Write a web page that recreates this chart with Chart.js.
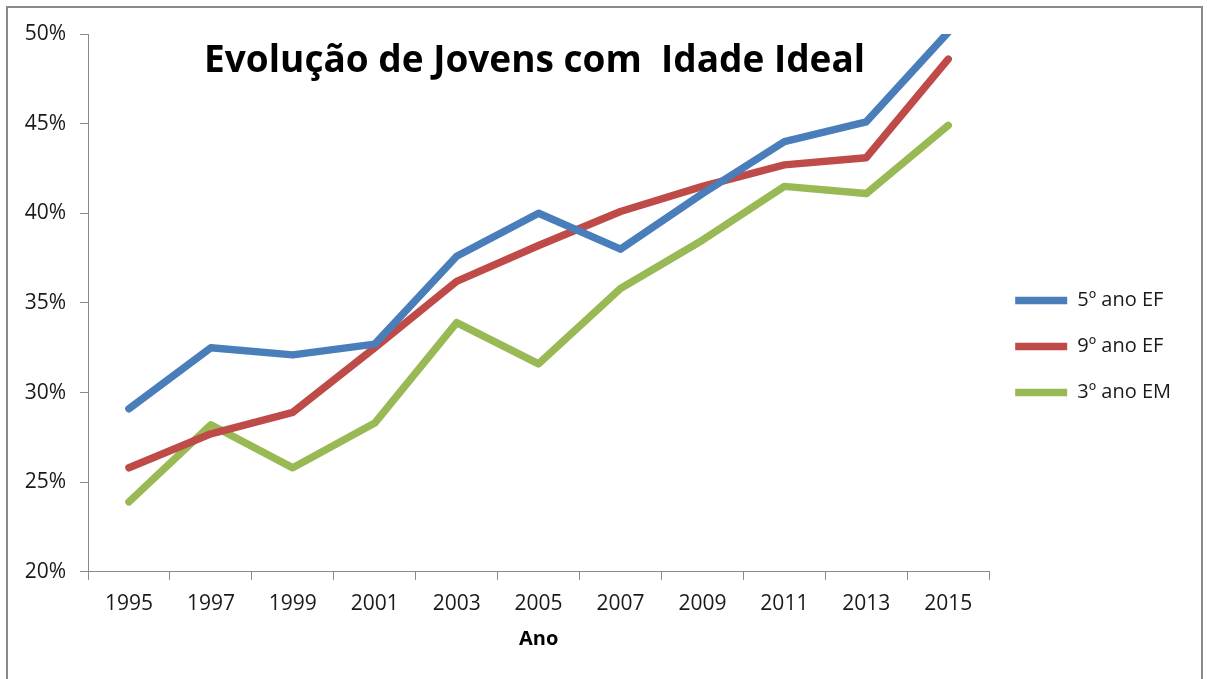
<!DOCTYPE html>
<html>
<head>
<meta charset="utf-8">
<script src="https://cdn.jsdelivr.net/npm/chart.js@4.4.1/dist/chart.umd.min.js"></script>
<style>
  html, body { margin: 0; padding: 0; background: #ffffff; }
  #wrap { position: relative; width: 1209px; height: 679px; overflow: hidden; }
  #frame { position: absolute; left: 6px; top: 6px; width: 1197px; height: 720px;
           border: 2px solid #8a8a8a; border-bottom: none; box-sizing: border-box; }
  #c { position: absolute; left: 0; top: 0; }
</style>
</head>
<body>
<div id="wrap">
  <div id="frame"></div>
  <canvas id="c" width="1209" height="679"></canvas>
</div>
<script>
const chartTitle = 'Evolução de Jovens com  Idade Ideal';
const xAxisTitle = 'Ano';
const years = ['1995', '1997', '1999', '2001', '2003', '2005', '2007', '2009', '2011', '2013', '2015'];
const seriesNames = ['5º ano EF', '9º ano EF', '3º ano EM'];
const ano5EF = [29.1, 32.5, 32.1, 32.7, 37.6, 40.0, 38.0, 41.1, 44.0, 45.1, 50.1];
const ano9EF = [25.8, 27.7, 28.9, 32.5, 36.2, 38.2, 40.1, 41.5, 42.7, 43.1, 48.6];
const ano3EM = [23.9, 28.2, 25.8, 28.3, 33.9, 31.6, 35.8, 38.5, 41.5, 41.1, 44.9];
const yTicks = [20, 25, 30, 35, 40, 45, 50];

const colors = ['#4A7EBB', '#BE4B48', '#98B954'];
const seriesData = [ano5EF, ano9EF, ano3EM];

const FONT = '"Open Sans", "Liberation Sans", sans-serif';

const titlePlugin = {
  id: 'insideTitle',
  afterDraw(chart) {
    const ctx = chart.ctx;
    const area = chart.chartArea;
    ctx.save();
    ctx.font = 'bold 37px ' + FONT;
    ctx.fillStyle = '#000000';
    ctx.textAlign = 'center';
    ctx.textBaseline = 'alphabetic';
    const cx = (area.left + area.right) / 2 - 4;
    ctx.fillText(chartTitle, cx, area.top + 38, 663);
    ctx.restore();
  }
};

new Chart(document.getElementById('c'), {
  type: 'line',
  data: {
    labels: years,
    datasets: seriesNames.map((name, i) => ({
      label: name,
      data: seriesData[i],
      borderColor: colors[i],
      backgroundColor: colors[i],
      borderWidth: 7.5,
      borderCapStyle: 'round',
      borderJoinStyle: 'round',
      pointRadius: 0,
      pointHoverRadius: 0,
      tension: 0,
      fill: false
    }))
  },
  options: {
    responsive: false,
    animation: false,
    events: [],
    layout: { padding: { left: 22, top: 34, right: 28, bottom: 0 } },
    scales: {
      x: {
        type: 'category',
        offset: true,
        grid: {
          offset: true,
          drawOnChartArea: false,
          drawTicks: true,
          tickLength: 8,
          color: '#8a8a8a',
          lineWidth: 1
        },
        border: { display: true, color: '#8a8a8a', width: 1 },
        ticks: {
          color: '#1a1a1a',
          padding: 12,
          maxRotation: 0,
          autoSkip: false,
          font: { family: FONT, size: 21 }
        },
        title: {
          display: true,
          text: xAxisTitle,
          color: '#000000',
          font: { family: FONT, size: 20, weight: 'bold', lineHeight: 1 },
          padding: { top: 0, bottom: 30 }
        }
      },
      y: {
        min: 20,
        max: 50,
        afterBuildTicks(scale) {
          scale.ticks = yTicks.map(v => ({ value: v }));
        },
        afterFit(scale) { scale.width = 66; },
        grid: {
          drawOnChartArea: false,
          drawTicks: true,
          tickLength: 8,
          color: '#8a8a8a',
          lineWidth: 1
        },
        border: { display: true, color: '#8a8a8a', width: 1 },
        ticks: {
          color: '#1a1a1a',
          padding: 14,
          font: { family: FONT, size: 21 },
          callback: v => v + '%'
        }
      }
    },
    plugins: {
      legend: {
        display: true,
        position: 'right',
        align: 'center',
        fullSize: false,
        title: {
          display: true,
          text: ' ',
          font: { family: FONT, size: 12 },
          padding: { top: 73, bottom: 0 }
        },
        labels: {
          usePointStyle: true,
          pointStyle: 'line',
          pointStyleWidth: 52,
          boxHeight: 20,
          padding: 26,
          color: '#1a1a1a',
          font: { family: FONT, size: 20 }
        }
      },
      tooltip: { enabled: false }
    }
  },
  plugins: [titlePlugin]
});
</script>
</body>
</html>
